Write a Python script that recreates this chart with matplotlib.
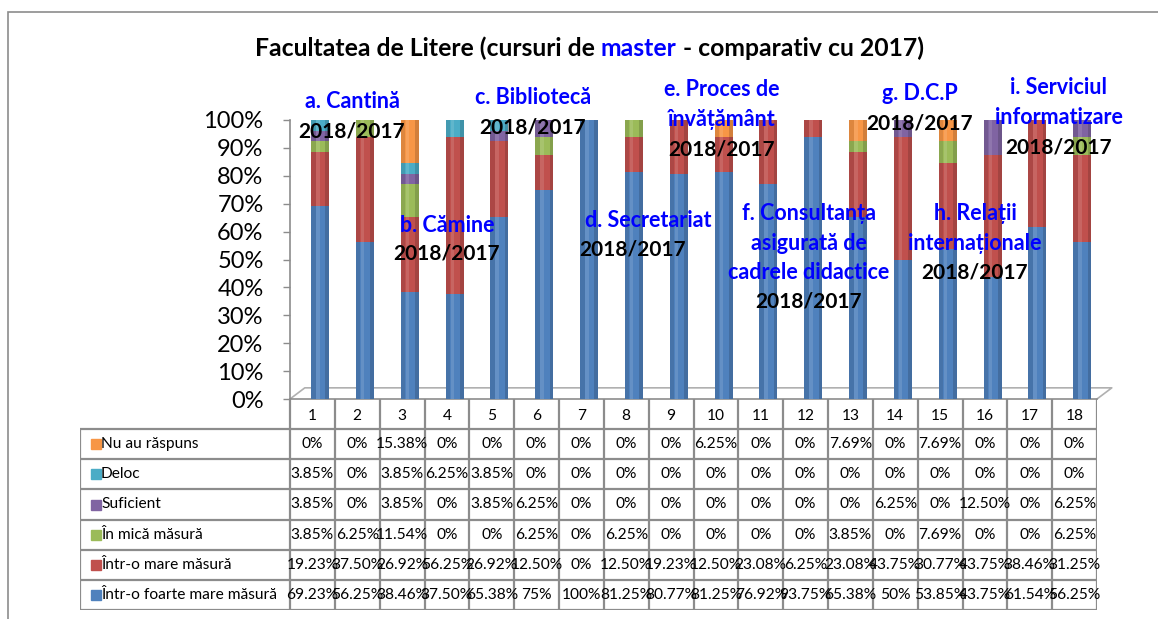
import numpy as np
import matplotlib
matplotlib.use("Agg")
import matplotlib.pyplot as plt
from matplotlib.patches import Rectangle
from matplotlib.lines import Line2D

plt.rcParams['font.family'] = ['Lato', 'DejaVu Sans']

# ---------------- data ----------------
categories = [str(i) for i in range(1, 19)]
series_names = ["Nu au răspuns", "Deloc", "Suficient", "În mică măsură",
                "Într-o mare măsură", "Într-o foarte mare măsură"]
nu_au_raspuns = [0, 0, 15.38, 0, 0, 0, 0, 0, 0, 6.25, 0, 0, 7.69, 0, 7.69, 0, 0, 0]
deloc = [3.85, 0, 3.85, 6.25, 3.85, 0, 0, 0, 0, 0, 0, 0, 0, 0, 0, 0, 0, 0]
suficient = [3.85, 0, 3.85, 0, 3.85, 6.25, 0, 0, 0, 0, 0, 0, 0, 6.25, 0, 12.50, 0, 6.25]
in_mica = [3.85, 6.25, 11.54, 0, 0, 6.25, 0, 6.25, 0, 0, 0, 0, 3.85, 0, 7.69, 0, 0, 6.25]
intr_o_mare = [19.23, 37.50, 26.92, 56.25, 26.92, 12.50, 0, 12.50, 19.23, 12.50,
               23.08, 6.25, 23.08, 43.75, 30.77, 43.75, 38.46, 31.25]
intr_o_foarte = [69.23, 56.25, 38.46, 37.50, 65.38, 75, 100, 81.25, 80.77, 81.25,
                 76.92, 93.75, 65.38, 50, 53.85, 43.75, 61.54, 56.25]
y_ticks = list(range(0, 101, 10))
y_tick_labels = [f"{v}%" for v in y_ticks]

title_parts = ["Facultatea de Litere (cursuri de ", "master", " - comparativ cu 2017)"]
annot_blue = ["a. Cantină", "b. Cămine", "c. Bibliotecă", "d. Secretariat",
              "e. Proces de\nînvățământ", "f. Consultanța\nasigurată de\ncadrele didactice",
              "g. D.C.P", "h. Relații\ninternaționale", "i. Serviciul\ninformatizare"]
annot_black = "2018/2017"

# ---------------- style ----------------
colors = {
    "Nu au răspuns": "#F79646",
    "Deloc": "#4BACC6",
    "Suficient": "#8064A2",
    "În mică măsură": "#9BBB59",
    "Într-o mare măsură": "#C0504D",
    "Într-o foarte mare măsură": "#4F81BD",
}
values = {
    "Nu au răspuns": nu_au_raspuns,
    "Deloc": deloc,
    "Suficient": suficient,
    "În mică măsură": in_mica,
    "Într-o mare măsură": intr_o_mare,
    "Într-o foarte mare măsură": intr_o_foarte,
}
W, H = 1158, 619
grid_c = "#8c8c8c"

fig = plt.figure(figsize=(W / 100, H / 100), dpi=100)

def fx(px):
    return px / W

def fy(py):
    return 1 - py / H

# outer border
fig.add_artist(Rectangle((fx(8), -0.1), 1.2, fy(12) + 0.1, transform=fig.transFigure,
                         fill=False, edgecolor=grid_c, lw=1.2))

# main axes
ax = fig.add_axes([fx(290), fy(399), (1097 - 290) / W, (399 - 120) / H])
x = np.arange(1, len(categories) + 1)
bar_x = x + 0.17
bottom = np.zeros(len(categories))
for name in reversed(series_names):
    v = np.array(values[name], dtype=float)
    ax.bar(bar_x, v, width=0.4, bottom=bottom, color=colors[name], zorder=3, linewidth=0)
    bottom += v
# cylinder-like shading
total = bottom
ax.bar(bar_x - 0.15, total, width=0.1, color="black", alpha=0.10, zorder=4, linewidth=0)
ax.bar(bar_x - 0.05, total, width=0.08, color="white", alpha=0.12, zorder=4, linewidth=0)
ax.bar(bar_x + 0.16, total, width=0.08, color="black", alpha=0.15, zorder=4, linewidth=0)

ax.set_xlim(0.5, len(categories) + 0.5)
ax.set_ylim(0, 100)
ax.set_yticks(y_ticks)
ax.set_yticklabels(y_tick_labels)
ax.tick_params(axis='y', length=5, color=grid_c, labelsize=17, pad=14, width=1)
ax.set_xticks([])
for s in ["top", "right"]:
    ax.spines[s].set_visible(False)
ax.spines["left"].set_color(grid_c)
ax.spines["bottom"].set_color(grid_c)
ax.spines["left"].set_linewidth(1.2)
ax.spines["bottom"].set_linewidth(1.2)
# 3D floor outline
n = len(categories)
ax.add_line(Line2D([0.5, 0.83, n + 0.83, n + 0.5], [0, 4, 4, 0], color="#b0b0b0",
                   lw=1.2, clip_on=False, zorder=1))
ax.patch.set_alpha(0)

# title (three pieces)
title_fs = 17.8
t1 = fig.text(fx(255), fy(56), title_parts[0], fontsize=title_fs, fontweight='bold', va='baseline')
t2 = fig.text(0, 0, title_parts[1], fontsize=title_fs, fontweight='bold', color='#0000FF', va='baseline')
t3 = fig.text(0, 0, title_parts[2], fontsize=title_fs, fontweight='bold', va='baseline')
fig.canvas.draw()
r = fig.canvas.get_renderer()
e1 = t1.get_window_extent(r)
t2.set_position((e1.x1 / W, fy(56)))
e2 = t2.get_window_extent(r)
t3.set_position((e2.x1 / W, fy(56)))

# annotations: (blue center x, blue first-line y, black center x, black y)
annot_pos = [(352, 102, 352, 131), (447, 226, 447, 254), (533, 98, 533, 127),
             (648, 220, 633, 249), (722, 90, 722, 149), (809, 214, 809, 302),
             (920, 94, 920, 123), (975, 214, 975, 272), (1059, 88, 1059, 147)]
for txt, (bx, by, kx, ky) in zip(annot_blue, annot_pos):
    for i, line in enumerate(txt.split("\n")):
        fig.text(fx(bx), fy(by + i * 29.3), line, color='#0000FF', fontsize=15.5,
                 fontweight='bold', ha='center', va='center')
    fig.text(fx(kx), fy(ky), annot_black, color='black', fontsize=15,
             fontweight='bold', ha='center', va='center')

# data table
tab = fig.add_axes([fx(80), fy(610), (1097 - 80) / W, (610 - 399) / H])
px_per_unit = 807 / n
x_left = 0.5 - 210 / px_per_unit
tab.set_xlim(x_left, n + 0.5)
tab.set_ylim(6, -1)
tab.axis('off')
lw_t = 1.6
for xi in np.arange(0.5, n + 1.5, 1.0):
    tab.plot([xi, xi], [-1, 6], color=grid_c, lw=lw_t, solid_capstyle='butt')
for yi in range(0, 7):
    tab.plot([x_left, n + 0.5], [yi, yi], color=grid_c, lw=lw_t, solid_capstyle='butt')
tab.plot([x_left, x_left], [0, 6], color=grid_c, lw=lw_t, solid_capstyle='butt')
fs_t = 11.2
for xi, c in zip(x, categories):
    tab.text(xi, -0.42, c, ha='center', va='center', fontsize=fs_t)

def fmt(v):
    return f"{int(v)}%" if float(v).is_integer() else f"{v:.2f}%"

for row, name in enumerate(series_names):
    yc = row + 0.5
    tab.plot([x_left + 16 / px_per_unit], [yc], marker='s', markersize=7.5,
             color=colors[name], linestyle='none')
    tab.text(x_left + 21 / px_per_unit, yc, name, ha='left', va='center', fontsize=fs_t)
    for xi, v in zip(x, values[name]):
        tab.text(xi, yc, fmt(v), ha='center', va='center', fontsize=fs_t)

fig.savefig("out.png", dpi=100)
